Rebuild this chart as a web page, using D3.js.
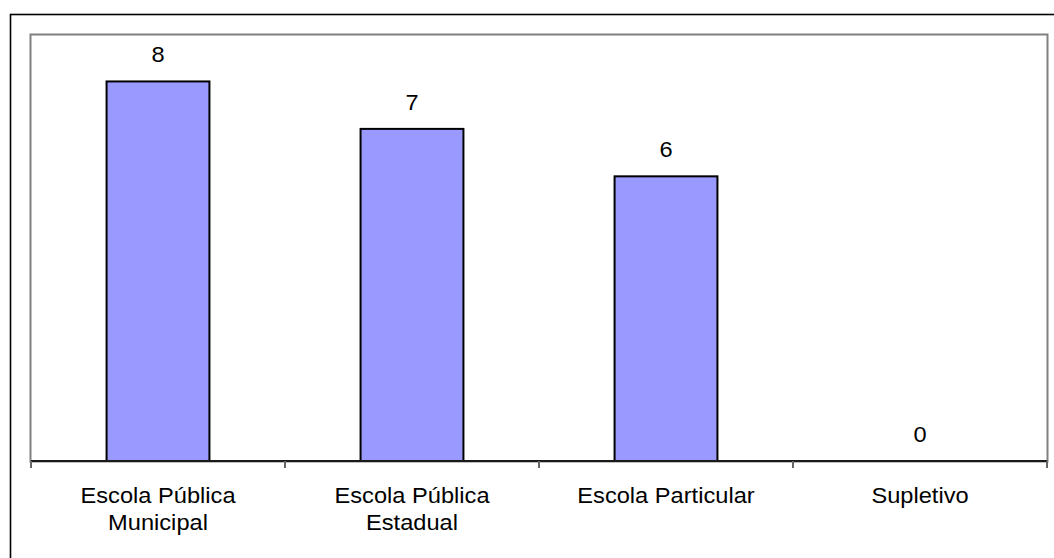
<!DOCTYPE html>
<html>
<head>
<meta charset="utf-8">
<script src="https://cdn.jsdelivr.net/npm/d3@7/dist/d3.min.js"></script>
<style>
  html, body { margin: 0; padding: 0; background: #fff; }
  svg { display: block; }
  text { font-family: Arial, "Liberation Sans", sans-serif; fill: #000; }
</style>
</head>
<body>
<svg id="chart" width="1054" height="558"></svg>
<script>
// Number of students by school type
const categories = [
  ["Escola Pública", "Municipal"],
  ["Escola Pública", "Estadual"],
  ["Escola Particular"],
  ["Supletivo"]
];
const values = [8, 7, 6, 0];
const yDomain = [0, 9];

const W = 1054, H = 558;
const plot = { left: 31, top: 34, right: 1047, bottom: 461 };
const fontSize = 22, stretch = 1.075;

const svg = d3.select("#chart");

// outer frame
svg.append("rect")
  .attr("x", 10.5).attr("y", 14.5)
  .attr("width", 1200).attr("height", 800)
  .attr("fill", "none").attr("stroke", "#000").attr("stroke-width", 1.6);

const keys = categories.map((c, i) => i);
const x = d3.scaleBand().domain(keys).range([plot.left, plot.right]).padding(0);
const y = d3.scaleLinear().domain(yDomain).range([plot.bottom, plot.top]);
const barW = x.bandwidth() * 0.405;

// plot area frame
svg.append("rect")
  .attr("x", plot.left - 0.5).attr("y", plot.top + 0.5)
  .attr("width", plot.right - plot.left + 1).attr("height", plot.bottom - plot.top)
  .attr("fill", "none").attr("stroke", "#808080").attr("stroke-width", 2);

// bars
svg.append("g").selectAll("rect")
  .data(values)
  .join("rect")
  .attr("x", (d, i) => x(i) + x.bandwidth() / 2 - barW / 2)
  .attr("y", d => y(d))
  .attr("width", barW)
  .attr("height", d => y(0) - y(d))
  .attr("fill", "#9999FF")
  .attr("stroke", "#000")
  .attr("stroke-width", 2);

// value labels
svg.append("g").selectAll("text")
  .data(values)
  .join("text")
  .attr("transform", (d, i) => `translate(${x(i) + x.bandwidth() / 2},${y(d) - 19}) scale(${stretch},1)`)
  .attr("text-anchor", "middle")
  .style("font-size", fontSize + "px")
  .text(d => d);

// category axis
const axis = d3.axisBottom(x).tickSize(0).tickFormat(() => "");
const gx = svg.append("g").attr("transform", `translate(0,${plot.bottom})`).call(axis);
gx.select(".domain").attr("stroke", "#1a1a1a").attr("stroke-width", 2)
  .attr("d", `M${plot.left},0H${plot.right}`);
gx.selectAll(".tick").remove();

// tick marks between categories
const bounds = keys.map(k => x(k)).concat([plot.right]);
gx.selectAll("line.sep")
  .data(bounds)
  .join("line")
  .attr("class", "sep")
  .attr("x1", d => d).attr("x2", d => d)
  .attr("y1", 0).attr("y2", 7)
  .attr("stroke", "#666").attr("stroke-width", 2);

// category labels
const labels = svg.append("g").selectAll("text")
  .data(categories)
  .join("text")
  .attr("transform", (d, i) => `translate(${x(i) + x.bandwidth() / 2},503) scale(${stretch},1)`)
  .attr("text-anchor", "middle")
  .style("font-size", fontSize + "px");
labels.selectAll("tspan")
  .data(d => d)
  .join("tspan")
  .attr("x", 0)
  .attr("dy", (d, j) => j === 0 ? 0 : 27.5)
  .text(d => d);
</script>
</body>
</html>
